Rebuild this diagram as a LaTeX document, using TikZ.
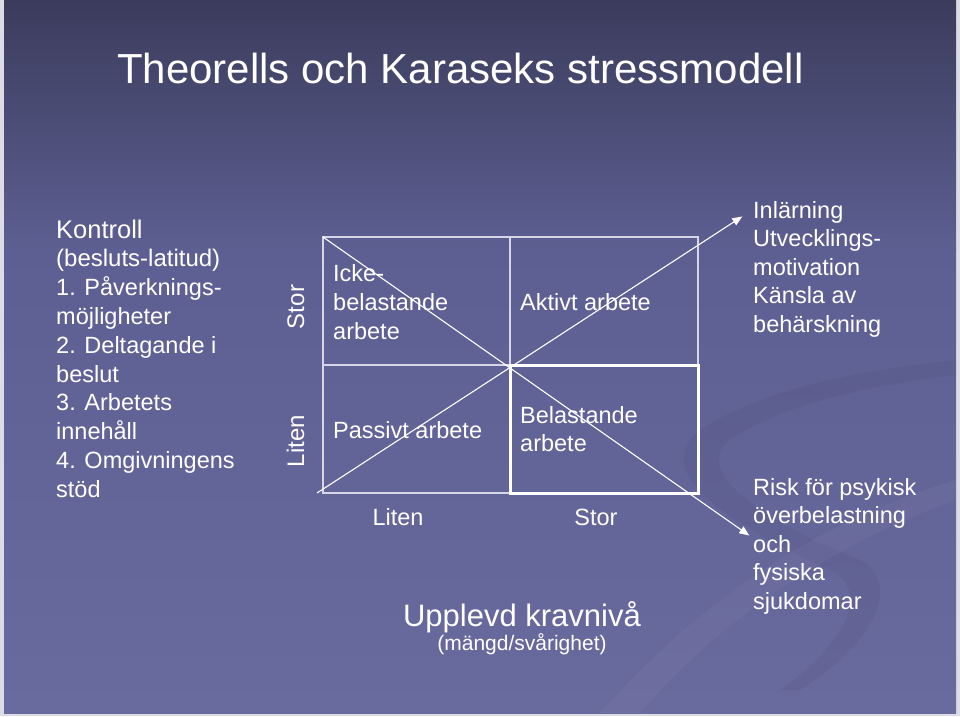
\documentclass[tikz,border=0pt]{standalone}
\usepackage{fontspec}
\setmainfont{Liberation Sans}
\usetikzlibrary{arrows.meta}
\definecolor{bgtop}{HTML}{3B3C5C}
\definecolor{bgmid}{HTML}{5D5F92}
\definecolor{bgbot}{HTML}{696A9D}
\definecolor{gridc}{HTML}{D6D6E8}
\definecolor{edgec}{HTML}{DCDCE6}
\begin{document}
\begin{tikzpicture}[x=1pt,y=-1pt,
  txt/.style={text=white, inner sep=0pt, anchor=base west, font=\fontsize{24}{29}\selectfont},
  txtc/.style={txt, anchor=base},
  vtxt/.style={text=white, inner sep=0pt, anchor=base, rotate=90, font=\fontsize{24}{29}\selectfont},
  gridline/.style={draw=gridc, line width=1.2pt},
  boldbox/.style={draw=white, line width=3pt},
  arrowline/.style={draw=white, line width=1.1pt, -{Triangle[length=10pt,width=8pt]}}]
\useasboundingbox (0,0) rectangle (960,716);
% background
\fill[edgec] (0,0) rectangle (960,716);
\shade[top color=bgtop, bottom color=bgmid] (4,0) rectangle (956,250);
\shade[top color=bgmid, bottom color=bgbot] (4,249.5) rectangle (956,713);
% faint swooshes
\fill[white, opacity=0.035] (600,713) .. controls (700,600) and (820,520) .. (956,480) -- (956,500) .. controls (830,545) and (720,620) .. (640,713) -- cycle;
\fill[black, opacity=0.035] (700,430) .. controls (760,390) and (860,370) .. (956,360) -- (956,375) .. controls (870,385) and (780,405) .. (730,440) .. controls (690,470) and (760,520) .. (860,560) .. controls (900,580) and (880,640) .. (800,690) -- (780,690) .. controls (850,640) and (870,590) .. (830,570) .. controls (720,520) and (650,470) .. (700,430) -- cycle;
% title
\node[txt, font=\fontsize{42}{50}\selectfont] (title) at (117,83) {Theorells och Karaseks stressmodell};
% left column
\node[txt, font=\fontsize{25.5}{30}\selectfont] (k1) at (56,238) {Kontroll};
\node[txt] (k2) at (56,266.8) {(besluts-latitud)};
\node[txt, font=\fontsize{23.5}{29}\selectfont] (k3) at (56,295.6) {1. Påverknings-};
\node[txt, font=\fontsize{23.5}{29}\selectfont] (k4) at (56,324.4) {möjligheter};
\node[txt, font=\fontsize{23.5}{29}\selectfont] (k5) at (56,353.2) {2. Deltagande i};
\node[txt, font=\fontsize{23.5}{29}\selectfont] (k6) at (56,382) {beslut};
\node[txt, font=\fontsize{23.5}{29}\selectfont] (k7) at (56,410.8) {3. Arbetets};
\node[txt, font=\fontsize{23.5}{29}\selectfont] (k8) at (56,439.6) {innehåll};
\node[txt, font=\fontsize{23.5}{29}\selectfont] (k9) at (56,468.4) {4. Omgivningens};
\node[txt, font=\fontsize{23.5}{29}\selectfont] (k10) at (56,497.2) {stöd};
% vertical axis labels
\node[vtxt] (vstor) at (304,307) {Stor};
\node[vtxt] (vliten) at (304,441) {Liten};
% grid
\coordinate (tl) at (323,237);
\coordinate (tm) at (510,237);
\coordinate (tr) at (698,237);
\coordinate (ml) at (323,365);
\coordinate (mm) at (510,365);
\coordinate (mr) at (698,365);
\coordinate (bl) at (323,493);
\coordinate (bm) at (510,493);
\coordinate (br) at (698,493);
\draw[gridline] (tl) rectangle (br);
\draw[gridline] (tm) -- (bm);
\draw[gridline] (ml) -- (mr);
\draw[boldbox] (mm) rectangle (br);
% diagonal arrows
\coordinate (upstart) at (317,493);
\node[inner sep=0pt] (uptip) at (743,216) {};
\node[inner sep=0pt] (downtip) at (750,536) {};
\draw[arrowline] (upstart) -- (uptip);
\draw[arrowline] (tl) -- (downtip);
% cell texts
\node[txt, font=\fontsize{23.5}{29}\selectfont] (c1a) at (333,281.7) {Icke-};
\node[txt, font=\fontsize{23.5}{29}\selectfont] (c1b) at (333,310.5) {belastande};
\node[txt, font=\fontsize{23.5}{29}\selectfont] (c1c) at (333,339.2) {arbete};
\node[txt, font=\fontsize{23.5}{29}\selectfont] (c2) at (520,310.5) {Aktivt arbete};
\node[txt, font=\fontsize{23.5}{29}\selectfont] (c3) at (333,438) {Passivt arbete};
\node[txt, font=\fontsize{23.5}{29}\selectfont] (c4a) at (520,423) {Belastande};
\node[txt, font=\fontsize{23.5}{29}\selectfont] (c4b) at (520,451.7) {arbete};
% horizontal axis labels
\node[txtc, font=\fontsize{23.5}{29}\selectfont] (hliten) at (398,525) {Liten};
\node[txtc, font=\fontsize{23.5}{29}\selectfont] (hstor) at (596,525) {Stor};
\node[txtc, font=\fontsize{31}{36}\selectfont] (krav) at (522,626.5) {Upplevd kravnivå};
\node[txtc, font=\fontsize{21}{25}\selectfont] (krav2) at (522,650) {(mängd/svårighet)};
% right texts
\node[txt, font=\fontsize{23.5}{29}\selectfont] (r1) at (753,218) {Inlärning};
\node[txt, font=\fontsize{23.5}{29}\selectfont] (r2) at (753,246.5) {Utvecklings-};
\node[txt, font=\fontsize{23.5}{29}\selectfont] (r3) at (753,275) {motivation};
\node[txt, font=\fontsize{23.5}{29}\selectfont] (r4) at (753,303.5) {Känsla av};
\node[txt, font=\fontsize{23.5}{29}\selectfont] (r5) at (753,332) {behärskning};
\node[txt, font=\fontsize{23.5}{29}\selectfont] (s1) at (753,495) {Risk för psykisk};
\node[txt, font=\fontsize{23.5}{29}\selectfont] (s2) at (753,523.5) {överbelastning};
\node[txt, font=\fontsize{23.5}{29}\selectfont] (s3) at (753,552) {och};
\node[txt, font=\fontsize{23.5}{29}\selectfont] (s4) at (753,580.5) {fysiska};
\node[txt, font=\fontsize{23.5}{29}\selectfont] (s5) at (753,609) {sjukdomar};
\end{tikzpicture}
\end{document}
